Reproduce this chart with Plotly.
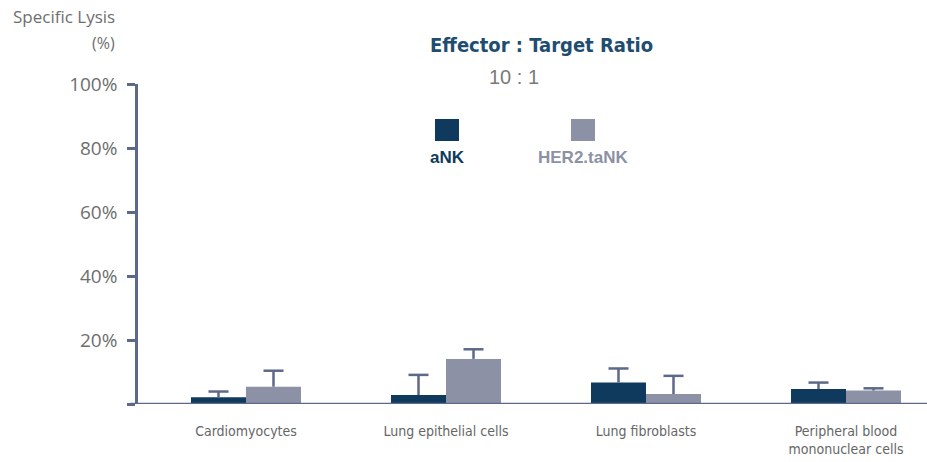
import plotly.graph_objects as go

# Specific lysis (%) at an effector : target ratio of 10 : 1
categories = ["Cardiomyocytes", "Lung epithelial cells", "Lung fibroblasts",
              "Peripheral blood<br>mononuclear cells"]
ank_values = [2.1, 2.8, 6.7, 4.7]
ank_errors = [1.8, 6.3, 4.4, 2.0]
her2_values = [5.4, 14.1, 3.1, 4.2]
her2_errors = [5.0, 3.0, 5.7, 0.7]
ytick_values = [0, 20, 40, 60, 80, 100]
ytick_labels = ["", "20%", "40%", "60%", "80%", "100%"]

NAVY = "#0f3a5e"
GREY = "#8c91a5"
AXIS = "#5d6988"
TEXT = "#6e6e6e"
CONDENSED = "DejaVu Sans Condensed, DejaVu Sans, sans-serif"

W, H = 927, 462
L, R, T, B = 138, 0, 84, 58
plot_w = W - L - R
X_RANGE = [-0.54, 3.405]

xpos = list(range(len(categories)))
bar_w = 0.275
cap_half = 0.05  # half width of the error-bar caps, in category units


def upper_error_path(centres, values, errors):
    """Stem from the bar top to value + error, with a cap at the end."""
    xs, ys = [], []
    for c, v, e in zip(centres, values, errors):
        top = v + e
        xs += [c, c, None, c - cap_half, c + cap_half, None]
        ys += [v, top, None, top, top, None]
    return xs, ys


fig = go.Figure()
series = [
    ("aNK", ank_values, ank_errors, NAVY, -bar_w),
    ("HER2.taNK", her2_values, her2_errors, GREY, 0.0),
]
for name, vals, errs, color, offset in series:
    fig.add_trace(go.Bar(
        x=xpos, y=vals, name=name, marker_color=color, marker_line_width=0,
        width=bar_w, offset=offset,
    ))
for name, vals, errs, color, offset in series:
    centres = [x + offset + bar_w / 2 for x in xpos]
    ex, ey = upper_error_path(centres, vals, errs)
    fig.add_trace(go.Scatter(
        x=ex, y=ey, mode="lines", name=name + " error",
        line=dict(color=AXIS, width=2.5), hoverinfo="skip",
    ))

fig.update_layout(
    width=W, height=H,
    margin=dict(l=L, r=R, t=T, b=B),
    paper_bgcolor="white", plot_bgcolor="white",
    showlegend=False,
    barmode="overlay",
    font=dict(family="Open Sans, sans-serif", color=TEXT),
)
fig.update_xaxes(
    range=X_RANGE, tickvals=xpos, ticktext=categories,
    showgrid=False, zeroline=False, showline=False, ticks="",
    ticklabelstandoff=17,
    tickfont=dict(family=CONDENSED, size=14, color="#666666"),
)
fig.update_yaxes(
    range=[0, 100], tickvals=ytick_values, ticktext=ytick_labels,
    showgrid=False, zeroline=False, showline=True, linecolor=AXIS, linewidth=2.5,
    ticks="outside", ticklen=8, tickwidth=2.5, tickcolor=AXIS,
    ticklabelstandoff=6,
    tickfont=dict(family="Open Sans, sans-serif", size=19, color=TEXT),
)

# baseline running from the y-axis tick end to the right edge
fig.add_shape(type="line", xref="paper", yref="y", x0=-8 / plot_w, x1=1, y0=0, y1=0,
              line=dict(color=AXIS, width=2.5))


def px(x):
    return (x - L) / plot_w


def py(y):
    return (H - B - y) / (H - T - B)


# legend swatches with labels underneath
for cx, color, label in [(447, NAVY, "aNK"), (583, GREY, "HER2.taNK")]:
    fig.add_shape(type="rect", xref="paper", yref="paper",
                  x0=px(cx - 12), x1=px(cx + 12), y0=py(141), y1=py(119),
                  fillcolor=color, line_width=0)
    fig.add_annotation(xref="paper", yref="paper", x=px(cx), y=py(157),
                       text=f"<b>{label}</b>", showarrow=False,
                       xanchor="center", yanchor="middle",
                       font=dict(family="Liberation Sans, Arial, sans-serif", size=17, color=color))

fig.add_annotation(xref="paper", yref="paper", x=px(541), y=py(45),
                   text="<b>Effector : Target Ratio</b>", showarrow=False,
                   xanchor="center", yanchor="middle",
                   font=dict(family=CONDENSED, size=20, color="#1f4d70"))
fig.add_annotation(xref="paper", yref="paper", x=px(514), y=py(77),
                   text="10 : 1", showarrow=False, xanchor="center", yanchor="middle",
                   font=dict(family="Liberation Sans, Arial, sans-serif", size=20, color="#7a7a7a"))
fig.add_annotation(xref="paper", yref="paper", x=px(117), y=py(17),
                   text="Specific Lysis", showarrow=False, xanchor="right", yanchor="middle",
                   font=dict(family="Open Sans, sans-serif", size=17, color=TEXT))
fig.add_annotation(xref="paper", yref="paper", x=px(117), y=py(43),
                   text="(%)", showarrow=False, xanchor="right", yanchor="middle",
                   font=dict(family="Open Sans, sans-serif", size=16, color=TEXT))

fig.write_html("out.html")
